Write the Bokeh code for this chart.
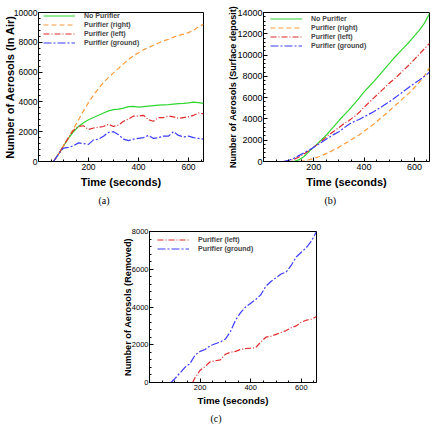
from bokeh.plotting import figure
from bokeh.models import FixedTicker, Legend, LegendItem, Label, Title, Range1d, Spacer
from bokeh.layouts import column, row
from bokeh.embed import file_html
from bokeh.resources import INLINE

# ---------------- data ----------------
# (a) aerosols in air
time_a = [60, 80, 100, 120, 140, 160, 180, 200, 220, 240, 260, 280, 300, 320, 340, 360,
          380, 400, 420, 440, 460, 480, 500, 520, 540, 560, 580, 600, 620, 640, 660]
air_none = [0, 500, 1050, 1550, 2000, 2350, 2600, 2800, 2950, 3100, 3250, 3400, 3480, 3520, 3580, 3680,
            3700, 3650, 3680, 3720, 3750, 3780, 3800, 3820, 3850, 3880, 3900, 3930, 3980, 3950, 3900]
air_right = [0, 500, 1050, 1600, 2200, 2800, 3400, 3950, 4450, 4900, 5300, 5650, 5950, 6250, 6550, 6850,
             7100, 7300, 7500, 7650, 7800, 7950, 8100, 8200, 8350, 8450, 8550, 8650, 8800, 9050, 9200]
air_left = [0, 500, 1050, 1600, 2100, 2350, 2400, 2150, 2250, 2300, 2350, 2500, 2350, 2450, 2700, 2850,
            3050, 3050, 3100, 2800, 2700, 2950, 2950, 3050, 3000, 2900, 2950, 3000, 3100, 3250, 3200]
air_ground = [0, 500, 900, 950, 1050, 1250, 1200, 1150, 1450, 1500, 1700, 1950, 2000, 1800, 1500, 1400,
              1500, 1550, 1600, 1750, 1550, 1600, 1700, 1700, 2000, 1750, 1650, 1700, 1600, 1550, 1500]

# (b) surface deposit
time_b = [80, 100, 120, 140, 160, 180, 200, 220, 240, 260, 280, 300, 320, 340, 360,
          380, 400, 420, 440, 460, 480, 500, 520, 540, 560, 580, 600, 620, 640, 660]
dep_none = [0, 0, 0, 150, 450, 900, 1350, 1800, 2250, 2750, 3300, 3850, 4350, 4850, 5400,
            5950, 6550, 7050, 7550, 8100, 8650, 9200, 9750, 10250, 10750, 11250, 11800, 12350, 13000, 13900]
dep_right = [0, 0, 0, 0, 50, 150, 280, 450, 650, 850, 1100, 1350, 1650, 1900, 2200,
             2500, 2850, 3200, 3550, 3950, 4350, 4750, 5200, 5600, 6050, 6450, 6950, 7450, 8050, 8800]
dep_left = [0, 50, 200, 400, 700, 1000, 1350, 1700, 2100, 2500, 2850, 3200, 3550, 3850, 4200,
            4600, 5100, 5550, 6000, 6450, 6900, 7350, 7750, 8200, 8650, 9100, 9600, 10100, 10600, 11100]
dep_ground = [0, 100, 300, 550, 800, 1050, 1350, 1650, 1950, 2250, 2550, 2800, 3150, 3500, 3750,
              3950, 4200, 4450, 4700, 5000, 5300, 5600, 5950, 6300, 6650, 7000, 7350, 7650, 8000, 8400]

# (c) removed
time_c_left = [170, 180, 200, 220, 240, 260, 280, 300, 320, 340, 360, 380, 400, 420, 440,
               460, 480, 500, 520, 540, 560, 580, 600, 620, 640, 660]
rem_left = [0, 250, 650, 850, 1100, 1150, 1200, 1500, 1600, 1650, 1750, 1800, 1820, 1850, 2150,
            2400, 2450, 2550, 2650, 2750, 2900, 3000, 3200, 3300, 3350, 3500]
time_c_ground = [85, 100, 120, 140, 160, 180, 200, 220, 240, 260, 280, 300, 320, 340, 360,
                 380, 400, 420, 440, 460, 480, 500, 520, 540, 560, 580, 600, 620, 640, 660]
rem_ground = [0, 200, 500, 800, 1000, 1450, 1650, 1750, 1950, 2050, 2150, 2300, 2700, 3300, 3700,
              4000, 4200, 4400, 4650, 5100, 5350, 5550, 5750, 5850, 6200, 6650, 6900, 7150, 7500, 8000]

x_major = [200, 400, 600]
x_minor = [50, 100, 150, 250, 300, 350, 450, 500, 550, 650]
y_major_a = [0, 2000, 4000, 6000, 8000, 10000]
y_major_b = [0, 2000, 4000, 6000, 8000, 10000, 12000, 14000]
y_major_c = [0, 2000, 4000, 6000, 8000]

GREEN = "#2fd62f"
ORANGE = "#ff9a3c"
RED = "#e02a2a"
BLUE = "#3c3cff"
FONT = "Liberation Sans"


def make_panel(width, height, mbl, mbr, mbt, mbb, ymax, ymajor, ylabel,
               tick_fs, xlab_fs, ylab_fs, ylab_standoff, xlab_standoff):
    p = figure(width=width, height=height, output_backend="svg", toolbar_location=None,
               x_range=Range1d(0, 660), y_range=Range1d(0, ymax),
               min_border_left=mbl, min_border_right=mbr, min_border_top=mbt, min_border_bottom=mbb)
    p.grid.visible = False
    p.outline_line_color = "black"
    p.outline_line_width = 1
    p.outline_line_alpha = 1
    p.background_fill_color = "white"
    p.border_fill_color = "white"
    yminor = []
    for a, b in zip(ymajor[:-1], ymajor[1:]):
        step = (b - a) / 5
        yminor += [a + step * k for k in range(1, 5)]
    p.xaxis.ticker = FixedTicker(ticks=x_major, minor_ticks=x_minor)
    p.yaxis.ticker = FixedTicker(ticks=ymajor, minor_ticks=yminor)
    for ax in (p.xaxis, p.yaxis):
        ax.major_tick_in = 4
        ax.major_tick_out = 0
        ax.minor_tick_in = 2
        ax.minor_tick_out = 0
        ax.axis_line_color = "black"
        ax.major_label_text_font = FONT
        ax.major_label_text_font_size = tick_fs
        ax.major_label_text_color = "black"
        ax.axis_label_text_font = FONT
        ax.axis_label_text_font_style = "bold"
        ax.axis_label_text_color = "black"
    p.xaxis.major_label_standoff = 2
    p.xaxis.axis_label_standoff = xlab_standoff
    p.xaxis.axis_label_text_font_size = xlab_fs
    p.yaxis.major_label_standoff = 1
    p.yaxis.axis_label_standoff = ylab_standoff
    p.yaxis.axis_label_text_font_size = ylab_fs
    p.xaxis.axis_label = "Time (seconds)"
    p.yaxis.axis_label = ylabel
    return p


def add_legend(p, items, loc):
    lg = Legend(items=[LegendItem(label=l, renderers=[r]) for l, r in items],
                location=loc, margin=0, padding=0, spacing=0,
                glyph_width=32, glyph_height=9, label_height=9, label_standoff=9,
                label_text_font=FONT, label_text_font_size="7px", label_text_font_style="bold",
                border_line_color=None, background_fill_alpha=0)
    p.add_layout(lg)


def add_caption(p, text, offset, standoff):
    p.add_layout(Title(text=text, align="left", offset=offset, text_font="Liberation Serif",
                       text_font_size="10px", text_font_style="normal", text_color="black",
                       standoff=standoff), "below")


def add_logo(p, x, y):
    p.add_layout(Label(x=x, y=y, text="\u25cf", text_color="#2f86cf", text_font_size="10px",
                       text_baseline="middle", text_align="left"))
    p.add_layout(Label(x=x, y=y, x_offset=8, text="CONVERGE", text_color="#5a78a8", text_font=FONT,
                       text_font_size="4px", text_font_style="bold",
                       text_baseline="middle", text_align="left"))


# ---------- panel (a) ----------
pa = make_panel(223, 208, 37, 20, 12, 46, 10000, y_major_a, "Number of Aerosols (In Air)",
                "8.5px", "11px", "11px", -5, 3)
ra1 = pa.line(time_a, air_none, line_color=GREEN, line_width=1.2)
ra2 = pa.line(time_a, air_right, line_color=ORANGE, line_width=1.2, line_dash="5 3")
ra3 = pa.line(time_a, air_left, line_color=RED, line_width=1.2, line_dash="6 2 1 2")
ra4 = pa.line(time_a, air_ground, line_color=BLUE, line_width=1.2, line_dash="8 2 2 2")
add_legend(pa, [("No Purifier", ra1), ("Purifier (right)", ra2), ("Purifier (left)", ra3),
                ("Purifier (ground)", ra4)], (5, 114))
add_caption(pa, "(a)", 60, 5)
add_logo(pa, 570, -1270)

# ---------- panel (b) ----------
pb = make_panel(209, 208, 40, 3, 12, 46, 14000, y_major_b, "Number of Aerosols (Surface deposit)",
                "9px", "11px", "9px", -4, 3)
rb1 = pb.line(time_b, dep_none, line_color=GREEN, line_width=1.2)
rb2 = pb.line(time_b, dep_right, line_color=ORANGE, line_width=1.2, line_dash="5 3")
rb3 = pb.line(time_b, dep_left, line_color=RED, line_width=1.2, line_dash="6 2 1 2")
rb4 = pb.line(time_b, dep_ground, line_color=BLUE, line_width=1.2, line_dash="8 2 2 2")
add_legend(pb, [("No Purifier", rb1), ("Purifier (right)", rb2), ("Purifier (left)", rb3),
                ("Purifier (ground)", rb4)], (7, 111))
add_caption(pb, "(b)", 61, 5)
add_logo(pb, 535, -1870)

# ---------- panel (c) ----------
pc = make_panel(217, 218, 36, 14, 23, 44, 8000, y_major_c, "Number of Aerosols (Removed)",
                "7.5px", "9.7px", "9.2px", -4, 2)
rc1 = pc.line(time_c_left, rem_left, line_color=RED, line_width=1.2, line_dash="6 2 1 2")
rc2 = pc.line(time_c_ground, rem_ground, line_color=BLUE, line_width=1.2, line_dash="8 2 2 2")
add_legend(pc, [("Purifier (left)", rc1), ("Purifier (ground)", rc2)], (8, 129))
add_caption(pc, "(c)", 61, 4)
add_logo(pc, 569, -1000)

layout = column(row(pa, pb), row(Spacer(width=113, height=218), pc))

open("out.html", "w").write(file_html(layout, INLINE))
